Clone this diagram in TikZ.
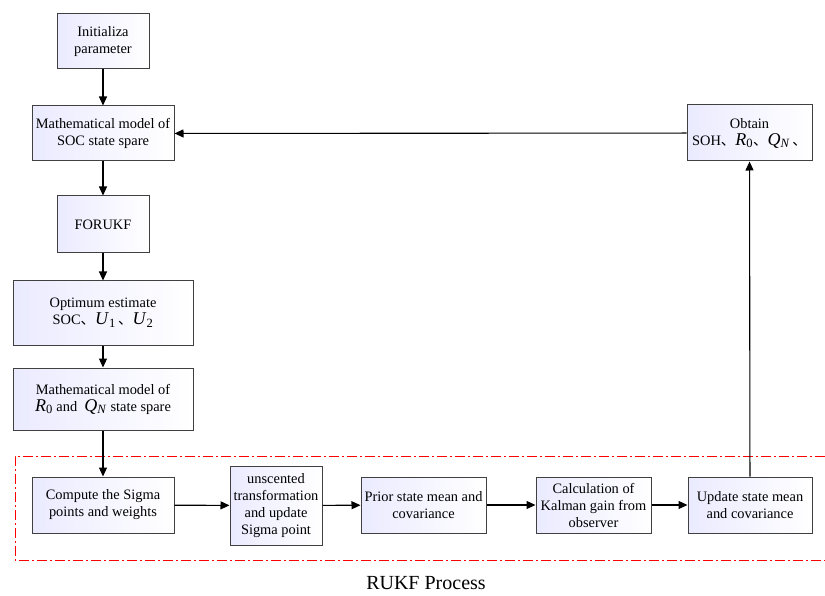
\documentclass[tikz,border=0pt]{standalone}
\usepackage{fontspec}
\setmainfont{Liberation Serif}
\newfontfamily\cjk{Noto Sans CJK SC}
\usetikzlibrary{arrows.meta}
\newcommand{\dun}{{\cjk 、}}
\newcommand{\qty}[2]{{\fontsize{18}{17}\selectfont\textit{#1}\textsubscript{#2}}}

\begin{document}
\begin{tikzpicture}[x=1pt,y=-1pt,
    box/.style={draw=black!75, line width=1pt, left color=blue!8, right color=white,
      align=center, inner sep=2pt, font=\fontsize{14.4}{17}\selectfont},
    flow/.style={-{Triangle[length=9pt,width=8pt]}, line width=1.1pt}]

    \useasboundingbox (0,0) rectangle (825,596);

    % left column
    \node[box, minimum width=92pt, minimum height=55pt] (init) at (103,41.5) {Initializa\\parameter};
    \node[box, minimum width=142pt, minimum height=55pt] (socmodel) at (103,133.5) {Mathematical model of\\SOC state spare};
    \node[box, minimum width=92pt, minimum height=57pt] (forukf) at (103,224.5) {FORUKF};
    \node[box, minimum width=180pt, minimum height=64pt] (optimum) at (103,313) {Optimum estimate\\ SOC\dun\qty{U}{1}\,\dun\qty{U}{2}};
    \node[box, minimum width=180pt, minimum height=62pt] (rmodel) at (103,399) {Mathematical model of\\\qty{R}{0} and ~\qty{Q}{\textit{N}} state spare};

    % right box
    \node[box, minimum width=125pt, minimum height=56pt] (obtain) at (749.5,133) {Obtain\\SOH\dun\qty{R}{0}\dun\qty{Q}{\textit{N}}\,\dun};

    % RUKF process
    \node[box, minimum width=142pt, minimum height=56pt] (sigma) at (103,505) {Compute the Sigma\\points and weights};
    \node[box, minimum width=92pt, minimum height=79pt] (unscented) at (276,505.5) {unscented\\transformation\\and update\\Sigma point};
    \node[box, minimum width=125pt, minimum height=56pt] (prior) at (423.5,505) {Prior state mean and\\covariance};
    \node[box, minimum width=115pt, minimum height=56pt] (kalman) at (593.5,505) {Calculation of\\Kalman gain from\\observer};
    \node[box, minimum width=124pt, minimum height=56pt] (update) at (750,505) {Update state mean\\and covariance};

    \draw[red, line width=1pt, dash pattern=on 10pt off 3pt on 2pt off 3pt]
        (825,456) -- (15,456) -- (15,560) -- (825,560);
    \node[font=\fontsize{20}{24}\selectfont] (title) at (426,583) {RUKF Process};

    % connectors
    \draw[flow] (init) -- (socmodel);
    \draw[flow] (socmodel) -- (forukf);
    \draw[flow] (forukf) -- (optimum);
    \draw[flow] (optimum) -- (rmodel);
    \draw[flow] (rmodel) -- (sigma);
    \draw[flow] (sigma) -- (unscented);
    \draw[flow] (unscented) -- (prior);
    \draw[flow] (prior) -- (kalman);
    \draw[flow] (kalman) -- (update);
    \draw[flow] (update) -- (obtain);
    \draw[flow] (obtain) -- (socmodel);

\end{tikzpicture}
\end{document}
